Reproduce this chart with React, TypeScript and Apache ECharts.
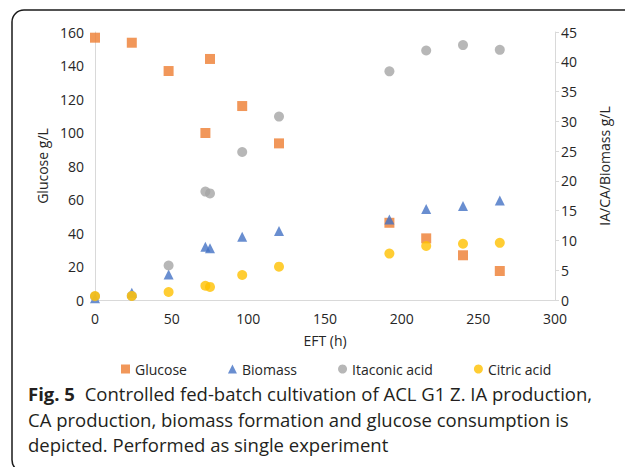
import React, { useEffect, useRef } from "react";
import * as echarts from "echarts";

const times = [0, 24, 48, 72, 75, 96, 120, 192, 216, 240, 264];
const glucose = [156.6, 153.6, 136.7, 99.7, 143.9, 115.8, 93.5, 46.1, 36.8, 26.7, 17.3];
const biomass = [0.3, 1.2, 4.3, 8.95, 8.7, 10.6, 11.6, 13.5, 15.3, 15.8, 16.7];
const itaconic = [0.6, 0.7, 5.8, 18.2, 17.9, 24.85, 30.8, 38.4, 41.9, 42.8, 42.0];
const citric = [0.67, 0.67, 1.34, 2.4, 2.2, 4.2, 5.6, 7.8, 9.07, 9.45, 9.6];
const seriesNames = ["Glucose", "Biomass", "Itaconic acid", "Citric acid"];
const colors = ["#ED7D31", "#4472C4", "#A5A5A5", "#FFC000"];

const pairs = (vals: number[]) => times.map((t, i) => [t, vals[i]]);

export default function App() {
  const ref = useRef<HTMLDivElement>(null);
  useEffect(() => {
    if (!ref.current) return;
    const chart = echarts.init(ref.current, null, { renderer: "svg" });
    const font = "Open Sans";
    const labelColor = "#262626";
    const axisLine = { show: true, lineStyle: { color: "#d9d9d9", width: 1 } };
    chart.setOption({
      animation: false,
      backgroundColor: "#fff",
      textStyle: { fontFamily: font },
      grid: { left: 95, right: 70, top: 32, bottom: 167, containLabel: false },
      legend: {
        data: [
          { name: seriesNames[0], icon: "rect" },
          { name: seriesNames[1], icon: "triangle" },
          { name: seriesNames[2], icon: "circle" },
          { name: seriesNames[3], icon: "circle" },
        ],
        left: 116,
        top: 357,
        itemWidth: 9,
        itemHeight: 9,
        itemGap: 41,
        textStyle: { fontFamily: font, fontSize: 14, color: labelColor },
      },
      xAxis: {
        type: "value",
        min: 0,
        max: 300,
        interval: 50,
        name: "EFT (h)",
        nameLocation: "middle",
        nameGap: 33,
        nameTextStyle: { fontFamily: font, fontSize: 14, color: labelColor },
        axisLine,
        axisTick: { show: false },
        splitLine: { show: false },
        axisLabel: { fontFamily: font, fontSize: 14, color: labelColor, margin: 11, lineHeight: 14 },
      },
      yAxis: [
        {
          type: "value",
          min: 0,
          max: 160,
          interval: 20,
          name: "Glucose g/L",
          nameLocation: "middle",
          nameGap: 46,
          nameTextStyle: { fontFamily: font, fontSize: 14, color: labelColor },
          axisLine,
          axisTick: { show: false },
          splitLine: { show: false },
          axisLabel: { fontFamily: font, fontSize: 14, color: labelColor, margin: 11, lineHeight: 14 },
        },
        {
          type: "value",
          min: 0,
          max: 45,
          interval: 5,
          position: "right",
          name: "IA/CA/Biomass g/L",
          nameLocation: "middle",
          nameGap: 42,
          nameRotate: 90,
          nameTextStyle: { fontFamily: font, fontSize: 14, color: labelColor },
          axisLine,
          axisTick: { show: true, length: 4, lineStyle: { color: "#d9d9d9" } },
          splitLine: { show: false },
          axisLabel: { fontFamily: font, fontSize: 14, color: labelColor, margin: 6, lineHeight: 14 },
        },
      ],
      series: [
        {
          name: seriesNames[0],
          type: "scatter",
          yAxisIndex: 0,
          symbol: "rect",
          symbolSize: 10,
          itemStyle: { color: colors[0] },
          data: pairs(glucose),
        },
        {
          name: seriesNames[1],
          type: "scatter",
          yAxisIndex: 1,
          symbol: "triangle",
          symbolSize: 10,
          itemStyle: { color: colors[1] },
          data: pairs(biomass),
        },
        {
          name: seriesNames[2],
          type: "scatter",
          yAxisIndex: 1,
          symbol: "circle",
          symbolSize: 10,
          itemStyle: { color: colors[2] },
          data: pairs(itaconic),
        },
        {
          name: seriesNames[3],
          type: "scatter",
          yAxisIndex: 1,
          symbol: "circle",
          symbolSize: 10,
          itemStyle: { color: colors[3] },
          data: pairs(citric),
        },
      ],
      graphic: [
        {
          type: "rect",
          shape: { x: 12, y: 10, width: 700, height: 462, r: [12, 0, 0, 12] },
          style: { fill: "none", stroke: "#1a1a1a", lineWidth: 1.5 },
          silent: true,
        },
        {
          type: "text",
          left: 28,
          top: 381,
          style: {
            text: "{b|Fig. 5} Controlled fed-batch cultivation of ACL G1 Z. IA production,\nCA production, biomass formation and glucose consumption is\ndepicted. Performed as single experiment",
            fontFamily: font,
            fontSize: 18.5,
            lineHeight: 25.5,
            fill: "#231f20",
            rich: {
              b: {
                fontFamily: font,
                fontSize: 18.5,
                fontWeight: "bold",
                fill: "#231f20",
                lineHeight: 25.5,
                padding: [0, 5, 0, 0],
              },
            },
          },
        },
      ],
    });
    return () => chart.dispose();
  }, []);
  return <div ref={ref} style={{ width: 625, height: 467, position: "absolute", left: 0, top: 0 }} />;
}
